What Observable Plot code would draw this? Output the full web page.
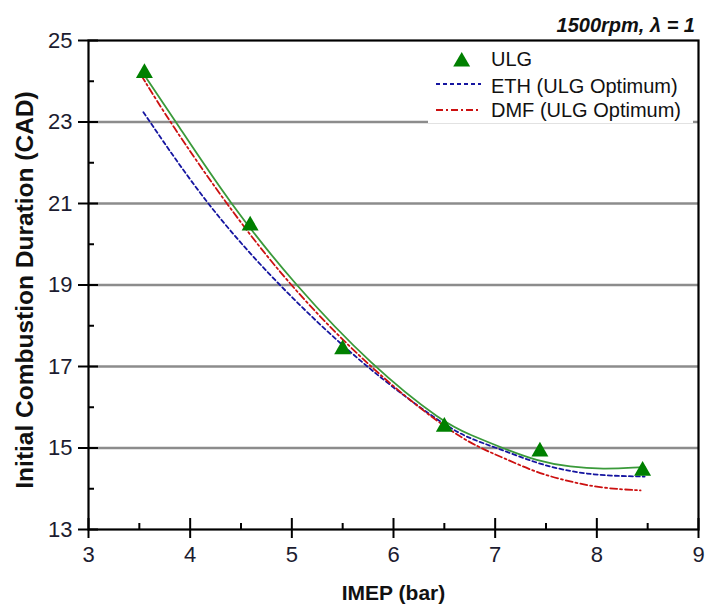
<!DOCTYPE html>
<html>
<head>
<meta charset="utf-8">
<script src="https://cdn.jsdelivr.net/npm/d3@7"></script>
<script src="https://cdn.jsdelivr.net/npm/@observablehq/plot@0.6"></script>
<style>
  html, body { margin: 0; padding: 0; background: white; }
  #wrap { position: relative; width: 707px; height: 608px; }
  #wrap svg.over { position: absolute; left: 0; top: 0; pointer-events: none; }
</style>
</head>
<body>
<div id="wrap"></div>
<script>
// ---- data ----
const ulgX = [3.55, 4.59, 5.50, 6.50, 7.44, 8.45];
const ulgY = [24.20, 20.46, 17.42, 15.52, 14.91, 14.44];

// fitted curve for ULG (green, solid)
const ulgFitX = [3.53, 3.86, 4.39, 5.03, 5.79, 6.50, 6.76, 7.07, 7.41, 7.74, 8.06, 8.40, 8.47];
const ulgFitY = [24.22, 23.00, 21.00, 19.00, 17.00, 15.60, 15.32, 15.00, 14.68, 14.53, 14.48, 14.52, 14.54];

// ETH (ULG Optimum), blue dashed
const ethX = [3.54, 4.15, 4.86, 5.71, 6.50, 6.76, 7.02, 7.41, 7.74, 8.06, 8.47];
const ethY = [23.24, 21.00, 19.00, 17.00, 15.55, 15.22, 15.00, 14.62, 14.42, 14.32, 14.30];

// DMF (ULG Optimum), red dash-dot
const dmfX = [3.52, 3.80, 4.35, 4.97, 5.75, 6.50, 6.85, 7.08, 7.41, 7.74, 8.06, 8.43];
const dmfY = [24.14, 23.00, 21.00, 19.00, 17.00, 15.49, 15.00, 14.76, 14.39, 14.17, 14.01, 13.96];

const xTicks = [3, 4, 5, 6, 7, 8, 9];
const xMinor = [3.5, 4.5, 5.5, 6.5, 7.5, 8.5];
const yTicks = [13, 15, 17, 19, 21, 23, 25];
const yMinor = [14, 16, 18, 20, 22, 24];
const yGrid = [15, 17, 19, 21, 23];

const seriesNames = ["ULG", "ETH (ULG Optimum)", "DMF (ULG Optimum)"];
const titleText = "1500rpm, \u03bb = 1";
const xLabel = "IMEP (bar)";
const yLabel = "Initial Combustion Duration (CAD)";

// ---- tables ----
const zip = (xs, ys) => xs.map((x, i) => ({x, y: ys[i]}));
const ulg = zip(ulgX, ulgY);
const ulgFit = zip(ulgFitX, ulgFitY);
const eth = zip(ethX, ethY);
const dmf = zip(dmfX, dmfY);

const W = 707, H = 608, mt = 40, mb = 79, ml = 88, mr = 9;
const innerH = H - mt - mb;
const innerW = W - ml - mr;
const font = "'Liberation Sans', Arial, sans-serif";
const tickColor = "#1c1c30";
const green = "#008000", greenLine = "#3a9a3a", blue = "#1515a0", red = "#cc1010";

const chart = Plot.plot({
  width: W, height: H,
  marginTop: mt, marginBottom: mb, marginLeft: ml, marginRight: mr,
  x: {domain: [3, 9]},
  y: {domain: [13, 25]},
  style: {fontFamily: font, background: "white", overflow: "visible"},
  marks: [
    Plot.ruleY(yGrid, {stroke: "#8c8c8c", strokeWidth: 2.5}),
    Plot.line(eth, {x: "x", y: "y", stroke: blue, strokeWidth: 1.8, strokeDasharray: "4,3", curve: "basis"}),
    Plot.line(dmf, {x: "x", y: "y", stroke: red, strokeWidth: 1.8, strokeDasharray: "7,3,2,3", curve: "basis"}),
    Plot.line(ulgFit, {x: "x", y: "y", stroke: greenLine, strokeWidth: 1.8, curve: "basis"}),
    Plot.dot(ulg, {x: "x", y: "y", symbol: "triangle", r: 6.3, fill: green, stroke: "none"}),
    // ticks
    Plot.ruleX(xTicks, {insetTop: innerH - 11, insetBottom: -9, stroke: "black", strokeWidth: 2}),
    Plot.ruleX(xMinor, {insetTop: innerH - 6, stroke: "black", strokeWidth: 2}),
    Plot.ruleY(yTicks, {insetLeft: -10, insetRight: innerW - 10, stroke: "black", strokeWidth: 2}),
    Plot.ruleY(yMinor, {insetRight: innerW - 6, stroke: "black", strokeWidth: 2}),
    Plot.frame({stroke: "black", strokeWidth: 2.2}),
    Plot.axisX({ticks: xTicks, tickSize: 0, tickPadding: 17, fontSize: 22, fill: tickColor, tickFormat: d => String(d), label: null}),
    Plot.axisY({ticks: yTicks, tickSize: 0, tickPadding: 16, fontSize: 22, fill: tickColor, tickFormat: d => String(d), label: null}),
    Plot.text([xLabel], {frameAnchor: "bottom", textAnchor: "middle", lineAnchor: "middle", dy: 64, fontSize: 21, fontWeight: "bold", fill: "#111"}),
    Plot.text([yLabel], {frameAnchor: "left", textAnchor: "middle", lineAnchor: "middle", rotate: -90, dx: -63, dy: 5, fontSize: 24.5, fontWeight: "bold", fill: "#111"})
  ]
});

const wrap = document.getElementById("wrap");
wrap.appendChild(chart);

// ---- overlay: title and legend ----
const over = d3.select(wrap).append("svg")
  .attr("class", "over").attr("width", W).attr("height", H)
  .style("font-family", font);

over.append("text").attr("x", 695).attr("y", 32)
  .attr("text-anchor", "end").attr("font-size", 20)
  .attr("font-weight", "bold").attr("font-style", "italic").attr("fill", "#111")
  .text(titleText);

const lg = over.append("g");
lg.append("rect").attr("x", 428).attr("y", 42).attr("width", 265).attr("height", 81).attr("fill", "white");
lg.append("path").attr("d", d3.symbol(d3.symbolTriangle, 124)()).attr("transform", "translate(461.7,61.7)").attr("fill", green);
lg.append("line").attr("x1", 436).attr("x2", 481).attr("y1", 84).attr("y2", 84)
  .attr("stroke", blue).attr("stroke-width", 1.8).attr("stroke-dasharray", "4,3");
lg.append("line").attr("x1", 436).attr("x2", 481).attr("y1", 110).attr("y2", 110)
  .attr("stroke", red).attr("stroke-width", 1.8).attr("stroke-dasharray", "7,3,2,3");
const ys = [66, 92.7, 117.3];
seriesNames.forEach((n, i) => {
  lg.append("text").attr("x", 491).attr("y", ys[i]).attr("font-size", 20).attr("fill", "#111").text(n);
});
</script>
</body>
</html>
